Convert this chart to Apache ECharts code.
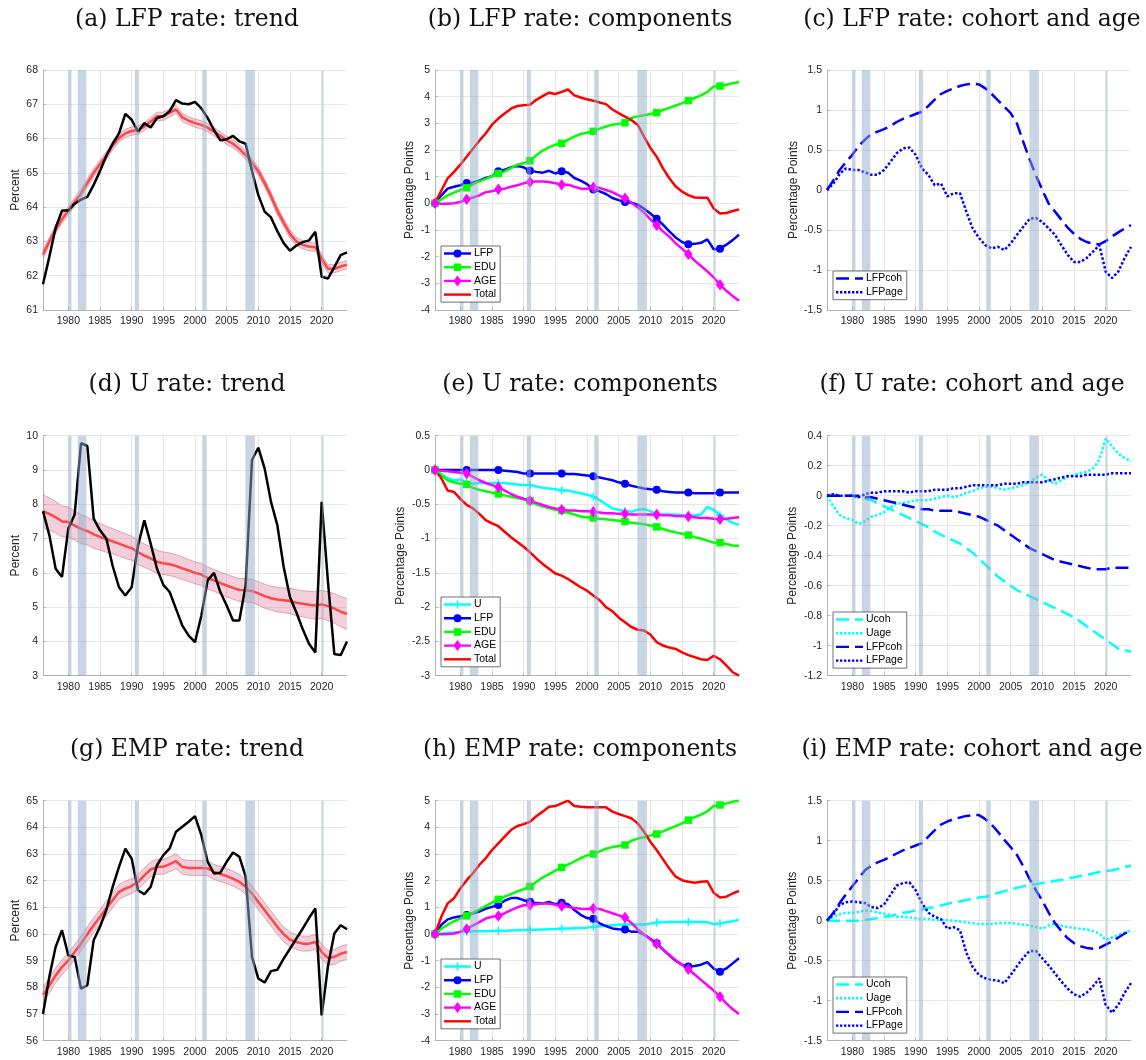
<!DOCTYPE html>
<html>
<head>
<meta charset="utf-8">
<title>LFP, U and EMP rates: trends, components, cohort and age</title>
<script src="https://cdn.jsdelivr.net/npm/echarts@6/dist/echarts.min.js"></script>
<style>
html, body { margin: 0; padding: 0; background: #ffffff; }
#chart { width: 1146px; height: 1060px; }
</style>
</head>
<body>
<div id="chart"></div>
<script>
// ---------- shared axis data ----------
const years = [
  1976, 1977, 1978, 1979, 1980, 1981, 1982, 1983, 1984, 1985,
  1986, 1987, 1988, 1989, 1990, 1991, 1992, 1993, 1994, 1995,
  1996, 1997, 1998, 1999, 2000, 2001, 2002, 2003, 2004, 2005,
  2006, 2007, 2008, 2009, 2010, 2011, 2012, 2013, 2014, 2015,
  2016, 2017, 2018, 2019, 2020, 2021, 2022, 2023, 2024
];
const yearTicks = [1980, 1985, 1990, 1995, 2000, 2005, 2010, 2015, 2020];
// NBER recession periods (start, end) in fractional years
const recessions = [
  [1980.0, 1980.5], [1981.5, 1982.85], [1990.5, 1991.15],
  [2001.15, 2001.85], [2007.95, 2009.45], [2020.05, 2020.3]
];

// ---------- (a) LFP rate: trend ----------
const lfpActual = [
  61.75, 62.55, 63.40, 63.90, 63.90, 64.10, 64.22, 64.30, 64.65, 65.05,
  65.50, 65.85, 66.15, 66.72, 66.55, 66.20, 66.45, 66.32, 66.60, 66.65,
  66.80, 67.12, 67.02, 67.00, 67.07, 66.88, 66.60, 66.25, 65.95, 65.98,
  66.08, 65.92, 65.85, 65.05, 64.35, 63.87, 63.70, 63.30, 62.95, 62.73,
  62.88, 62.98, 63.03, 63.28, 61.97, 61.92, 62.25, 62.60, 62.68
];
const lfpTrend = [
  62.62, 63.00, 63.35, 63.65, 63.90, 64.15, 64.40, 64.70, 65.00, 65.25,
  65.50, 65.80, 66.02, 66.15, 66.22, 66.25, 66.35, 66.50, 66.65, 66.65,
  66.75, 66.85, 66.62, 66.52, 66.45, 66.40, 66.32, 66.20, 66.08, 65.95,
  65.85, 65.70, 65.52, 65.30, 65.05, 64.70, 64.32, 63.90, 63.55, 63.22,
  63.00, 62.90, 62.85, 62.83, 62.50, 62.20, 62.20, 62.27, 62.32
];
const lfpBandHalf = 0.12;

// ---------- (b) LFP rate: components ----------
const lfpCompLFP = [
  0.00, 0.30, 0.55, 0.62, 0.68, 0.76, 0.78, 0.85, 0.95, 1.02,
  1.20, 1.26, 1.35, 1.40, 1.35, 1.22, 1.18, 1.15, 1.22, 1.12,
  1.20, 1.15, 0.95, 0.85, 0.72, 0.52, 0.45, 0.35, 0.20, 0.12,
  0.05, 0.02, -0.05, -0.20, -0.38, -0.58, -0.80, -1.05, -1.28, -1.45,
  -1.53, -1.52, -1.48, -1.35, -1.72, -1.70, -1.55, -1.38, -1.18
];
const lfpCompEDU = [
  0.00, 0.15, 0.30, 0.40, 0.50, 0.58, 0.72, 0.82, 0.92, 1.02,
  1.12, 1.20, 1.32, 1.45, 1.50, 1.60, 1.80, 1.98, 2.10, 2.20,
  2.25, 2.38, 2.50, 2.60, 2.65, 2.70, 2.80, 2.88, 2.95, 2.98,
  3.02, 3.20, 3.26, 3.30, 3.35, 3.40, 3.50, 3.58, 3.67, 3.75,
  3.85, 3.95, 4.05, 4.18, 4.38, 4.40, 4.45, 4.50, 4.55
];
const lfpCompAGE = [
  0.00, -0.02, -0.02, 0.00, 0.05, 0.15, 0.22, 0.30, 0.42, 0.45,
  0.53, 0.55, 0.62, 0.68, 0.75, 0.80, 0.82, 0.82, 0.80, 0.75,
  0.70, 0.70, 0.62, 0.55, 0.55, 0.60, 0.58, 0.50, 0.42, 0.30,
  0.19, 0.02, -0.15, -0.35, -0.60, -0.82, -1.05, -1.25, -1.50, -1.70,
  -1.91, -2.15, -2.35, -2.55, -2.78, -3.05, -3.28, -3.48, -3.65
];
const lfpCompTotal = [
  0.00, 0.48, 0.94, 1.18, 1.45, 1.75, 2.05, 2.35, 2.62, 2.95,
  3.18, 3.37, 3.55, 3.65, 3.68, 3.70, 3.88, 4.02, 4.15, 4.10,
  4.18, 4.27, 4.05, 3.97, 3.90, 3.85, 3.78, 3.72, 3.52, 3.38,
  3.25, 3.12, 2.95, 2.50, 2.08, 1.75, 1.31, 0.94, 0.63, 0.44,
  0.31, 0.22, 0.21, 0.21, -0.19, -0.38, -0.36, -0.29, -0.23
];

// ---------- (c) LFP rate: cohort and age ----------
const lfpCoh = [
  0.00, 0.12, 0.25, 0.35, 0.44, 0.55, 0.63, 0.70, 0.73, 0.76,
  0.80, 0.85, 0.89, 0.92, 0.95, 0.98, 1.05, 1.13, 1.20, 1.24,
  1.27, 1.30, 1.32, 1.33, 1.32, 1.27, 1.20, 1.12, 1.04, 0.96,
  0.83, 0.60, 0.38, 0.18, 0.00, -0.17, -0.27, -0.37, -0.47, -0.55,
  -0.61, -0.65, -0.67, -0.68, -0.64, -0.58, -0.53, -0.48, -0.44
];
const lfpAge = [
  0.00, 0.08, 0.20, 0.27, 0.25, 0.25, 0.22, 0.19, 0.19, 0.25,
  0.35, 0.46, 0.52, 0.53, 0.44, 0.27, 0.19, 0.06, 0.08, -0.08,
  -0.04, -0.04, -0.27, -0.48, -0.60, -0.69, -0.73, -0.71, -0.75, -0.67,
  -0.56, -0.46, -0.36, -0.35, -0.40, -0.48, -0.56, -0.69, -0.81, -0.90,
  -0.90, -0.85, -0.77, -0.69, -1.02, -1.10, -1.02, -0.85, -0.71
];

// ---------- (d) U rate: trend ----------
const uActual = [
  7.80, 7.10, 6.12, 5.88, 7.29, 7.70, 9.78, 9.70, 7.58, 7.24,
  7.00, 6.20, 5.58, 5.34, 5.58, 6.80, 7.53, 6.85, 6.12, 5.65,
  5.44, 4.95, 4.46, 4.17, 3.98, 4.75, 5.78, 6.00, 5.44, 5.05,
  4.61, 4.61, 5.63, 9.29, 9.65, 9.04, 8.07, 7.39, 6.17, 5.29,
  4.85, 4.36, 3.93, 3.68, 8.07, 5.73, 3.63, 3.60, 4.00
];
const uTrend = [
  7.80, 7.72, 7.62, 7.50, 7.48, 7.38, 7.28, 7.22, 7.12, 7.05,
  6.98, 6.92, 6.85, 6.78, 6.72, 6.60, 6.50, 6.42, 6.32, 6.28,
  6.25, 6.20, 6.13, 6.07, 6.00, 5.95, 5.85, 5.78, 5.70, 5.63,
  5.56, 5.50, 5.49, 5.47, 5.40, 5.32, 5.26, 5.22, 5.20, 5.18,
  5.13, 5.10, 5.07, 5.05, 5.08, 5.03, 4.96, 4.87, 4.80
];
const uBandHalf = [
  0.48, 0.47, 0.46, 0.45, 0.44, 0.43, 0.42, 0.41, 0.40, 0.39,
  0.38, 0.37, 0.36, 0.36, 0.35, 0.35, 0.34, 0.34, 0.34, 0.33,
  0.33, 0.33, 0.33, 0.32, 0.32, 0.32, 0.32, 0.32, 0.32, 0.33,
  0.33, 0.33, 0.34, 0.34, 0.34, 0.35, 0.35, 0.36, 0.36, 0.37,
  0.38, 0.38, 0.39, 0.40, 0.41, 0.42, 0.43, 0.44, 0.45
];

// ---------- (e) U rate: components ----------
const uCompU = [
  0.00, -0.06, -0.12, -0.15, -0.14, -0.18, -0.20, -0.19, -0.19, -0.19,
  -0.19, -0.19, -0.20, -0.21, -0.22, -0.22, -0.24, -0.26, -0.27, -0.28,
  -0.30, -0.30, -0.32, -0.34, -0.36, -0.39, -0.44, -0.50, -0.56, -0.58,
  -0.60, -0.61, -0.58, -0.57, -0.60, -0.64, -0.65, -0.65, -0.65, -0.66,
  -0.66, -0.66, -0.65, -0.54, -0.58, -0.66, -0.72, -0.77, -0.80
];
const uCompLFP = [
  0.00, 0.00, 0.00, 0.00, 0.00, 0.00, 0.00, 0.00, 0.00, 0.00,
  0.00, -0.01, -0.02, -0.03, -0.05, -0.05, -0.05, -0.05, -0.05, -0.05,
  -0.05, -0.06, -0.06, -0.07, -0.08, -0.09, -0.11, -0.13, -0.15, -0.18,
  -0.20, -0.23, -0.25, -0.27, -0.28, -0.29, -0.31, -0.32, -0.33, -0.33,
  -0.33, -0.34, -0.34, -0.34, -0.34, -0.33, -0.33, -0.33, -0.33
];
const uCompEDU = [
  0.00, -0.08, -0.15, -0.18, -0.20, -0.21, -0.26, -0.29, -0.31, -0.33,
  -0.35, -0.37, -0.39, -0.41, -0.43, -0.45, -0.50, -0.53, -0.56, -0.58,
  -0.59, -0.62, -0.65, -0.68, -0.69, -0.70, -0.71, -0.72, -0.73, -0.74,
  -0.75, -0.77, -0.78, -0.79, -0.81, -0.83, -0.86, -0.89, -0.91, -0.93,
  -0.95, -0.98, -1.00, -1.03, -1.06, -1.06, -1.08, -1.10, -1.11
];
const uCompAGE = [
  0.00, -0.01, -0.02, -0.03, -0.04, -0.05, -0.10, -0.15, -0.19, -0.22,
  -0.25, -0.30, -0.35, -0.39, -0.42, -0.45, -0.48, -0.51, -0.54, -0.56,
  -0.58, -0.59, -0.59, -0.60, -0.60, -0.61, -0.62, -0.63, -0.63, -0.64,
  -0.64, -0.65, -0.65, -0.65, -0.65, -0.65, -0.66, -0.66, -0.67, -0.67,
  -0.68, -0.69, -0.70, -0.70, -0.71, -0.72, -0.71, -0.70, -0.69
];
const uCompTotal = [
  0.00, -0.12, -0.30, -0.32, -0.42, -0.51, -0.56, -0.64, -0.73, -0.78,
  -0.82, -0.90, -0.98, -1.05, -1.12, -1.20, -1.29, -1.37, -1.44, -1.51,
  -1.54, -1.59, -1.65, -1.71, -1.76, -1.83, -1.90, -2.00, -2.06, -2.15,
  -2.22, -2.29, -2.33, -2.34, -2.40, -2.51, -2.56, -2.59, -2.61, -2.66,
  -2.70, -2.73, -2.76, -2.77, -2.71, -2.76, -2.85, -2.95, -3.00
];

// ---------- (f) U rate: cohort and age ----------
const uUcoh = [
  0.00, 0.00, 0.00, 0.00, 0.00, -0.01, -0.02, -0.03, -0.05, -0.07,
  -0.09, -0.11, -0.13, -0.15, -0.17, -0.19, -0.21, -0.24, -0.26, -0.28,
  -0.30, -0.32, -0.35, -0.38, -0.42, -0.46, -0.50, -0.54, -0.57, -0.60,
  -0.63, -0.65, -0.67, -0.69, -0.71, -0.73, -0.75, -0.77, -0.79, -0.81,
  -0.84, -0.87, -0.90, -0.93, -0.96, -0.99, -1.02, -1.03, -1.04
];
const uUage = [
  0.00, -0.07, -0.13, -0.15, -0.16, -0.19, -0.17, -0.14, -0.13, -0.11,
  -0.08, -0.05, -0.05, -0.04, -0.03, -0.03, -0.03, -0.02, -0.01, 0.00,
  -0.01, 0.00, 0.02, 0.03, 0.05, 0.06, 0.06, 0.05, 0.04, 0.05,
  0.06, 0.07, 0.09, 0.12, 0.14, 0.10, 0.08, 0.10, 0.13, 0.14,
  0.15, 0.16, 0.18, 0.24, 0.38, 0.33, 0.28, 0.25, 0.23
];
const uLFPcoh = [
  0.00, 0.00, 0.00, 0.00, 0.00, 0.00, -0.01, -0.01, -0.02, -0.03,
  -0.04, -0.05, -0.06, -0.07, -0.08, -0.09, -0.09, -0.10, -0.10, -0.10,
  -0.10, -0.11, -0.12, -0.13, -0.14, -0.16, -0.18, -0.20, -0.23, -0.26,
  -0.29, -0.32, -0.35, -0.37, -0.39, -0.41, -0.43, -0.44, -0.45, -0.46,
  -0.47, -0.48, -0.49, -0.49, -0.49, -0.48, -0.48, -0.48, -0.48
];
const uLFPage = [
  0.00, 0.01, 0.00, 0.00, 0.00, -0.01, 0.01, 0.02, 0.02, 0.03,
  0.03, 0.03, 0.03, 0.02, 0.03, 0.03, 0.03, 0.04, 0.04, 0.04,
  0.05, 0.05, 0.06, 0.07, 0.07, 0.07, 0.07, 0.07, 0.08, 0.08,
  0.08, 0.09, 0.09, 0.09, 0.09, 0.10, 0.11, 0.12, 0.13, 0.13,
  0.13, 0.14, 0.14, 0.14, 0.14, 0.15, 0.15, 0.15, 0.15
];

// ---------- (g) EMP rate: trend ----------
const empActual = [
  57.00, 58.40, 59.52, 60.14, 59.20, 59.14, 57.95, 58.08, 59.77, 60.27,
  60.90, 61.77, 62.52, 63.20, 62.83, 61.64, 61.49, 61.77, 62.58, 62.96,
  63.21, 63.84, 64.02, 64.21, 64.42, 63.71, 62.71, 62.27, 62.30, 62.71,
  63.06, 62.90, 62.15, 59.14, 58.33, 58.18, 58.61, 58.66, 59.08, 59.45,
  59.83, 60.20, 60.60, 60.96, 56.95, 58.80, 60.02, 60.33, 60.18
];
const empTrend = [
  57.72, 58.07, 58.45, 58.76, 59.01, 59.33, 59.64, 59.99, 60.33, 60.64,
  60.96, 61.27, 61.58, 61.70, 61.80, 61.95, 62.20, 62.42, 62.52, 62.52,
  62.62, 62.73, 62.52, 62.48, 62.48, 62.48, 62.46, 62.33, 62.25, 62.17,
  62.08, 61.96, 61.77, 61.52, 61.20, 60.89, 60.58, 60.27, 59.99, 59.79,
  59.70, 59.64, 59.64, 59.70, 59.33, 59.10, 59.14, 59.26, 59.33
];
const empBandHalf = 0.28;

// ---------- (h) EMP rate: components ----------
const empCompU = [
  0.00, 0.02, 0.05, 0.06, 0.08, 0.09, 0.10, 0.10, 0.10, 0.11,
  0.12, 0.12, 0.13, 0.14, 0.15, 0.16, 0.16, 0.17, 0.18, 0.19,
  0.21, 0.21, 0.22, 0.23, 0.24, 0.27, 0.29, 0.31, 0.33, 0.35,
  0.36, 0.37, 0.36, 0.36, 0.39, 0.43, 0.44, 0.45, 0.45, 0.45,
  0.45, 0.45, 0.45, 0.44, 0.37, 0.40, 0.44, 0.48, 0.53
];
const empCompLFP = [
  0.00, 0.35, 0.55, 0.62, 0.67, 0.71, 0.78, 0.84, 0.95, 1.02,
  1.09, 1.25, 1.35, 1.35, 1.27, 1.21, 1.16, 1.15, 1.20, 1.12,
  1.17, 1.12, 0.90, 0.72, 0.60, 0.57, 0.40, 0.30, 0.21, 0.18,
  0.17, 0.09, 0.09, -0.02, -0.18, -0.35, -0.58, -0.80, -1.00, -1.15,
  -1.22, -1.20, -1.15, -1.05, -1.30, -1.41, -1.29, -1.10, -0.91
];
const empCompEDU = [
  0.00, 0.20, 0.35, 0.48, 0.58, 0.68, 0.80, 0.92, 1.05, 1.18,
  1.30, 1.40, 1.50, 1.60, 1.68, 1.78, 1.95, 2.12, 2.25, 2.38,
  2.50, 2.60, 2.72, 2.85, 2.95, 3.00, 3.10, 3.20, 3.26, 3.30,
  3.34, 3.50, 3.58, 3.63, 3.70, 3.75, 3.85, 3.95, 4.05, 4.15,
  4.27, 4.38, 4.48, 4.60, 4.80, 4.84, 4.90, 4.96, 5.02
];
const empCompAGE = [
  0.00, -0.01, 0.00, 0.02, 0.08, 0.19, 0.32, 0.45, 0.58, 0.65,
  0.68, 0.78, 0.90, 1.00, 1.08, 1.09, 1.12, 1.15, 1.14, 1.10,
  1.05, 1.02, 0.98, 0.95, 0.94, 0.96, 0.94, 0.86, 0.78, 0.70,
  0.62, 0.42, 0.18, -0.02, -0.20, -0.36, -0.58, -0.78, -0.98, -1.15,
  -1.32, -1.52, -1.72, -1.92, -2.12, -2.35, -2.60, -2.82, -3.00
];
const empCompTotal = [
  0.00, 0.65, 1.15, 1.34, 1.71, 2.02, 2.28, 2.59, 2.84, 3.15,
  3.40, 3.65, 3.90, 4.05, 4.12, 4.21, 4.42, 4.59, 4.77, 4.80,
  4.90, 5.00, 4.80, 4.77, 4.75, 4.75, 4.75, 4.75, 4.59, 4.50,
  4.42, 4.34, 4.15, 3.84, 3.46, 3.15, 2.80, 2.46, 2.15, 2.02,
  1.96, 1.92, 1.96, 1.98, 1.55, 1.37, 1.40, 1.52, 1.62
];

// ---------- (i) EMP rate: cohort and age ----------
const empUcoh = [
  0.00, 0.00, 0.00, 0.00, 0.00, 0.00, 0.01, 0.02, 0.03, 0.05,
  0.06, 0.08, 0.10, 0.11, 0.13, 0.14, 0.16, 0.17, 0.19, 0.21,
  0.23, 0.24, 0.26, 0.27, 0.29, 0.30, 0.32, 0.35, 0.37, 0.39,
  0.41, 0.43, 0.45, 0.46, 0.47, 0.48, 0.50, 0.51, 0.53, 0.54,
  0.56, 0.57, 0.59, 0.61, 0.62, 0.63, 0.65, 0.67, 0.69
];
const empUage = [
  0.00, 0.05, 0.08, 0.10, 0.10, 0.11, 0.13, 0.12, 0.10, 0.09,
  0.07, 0.05, 0.05, 0.04, 0.03, 0.02, 0.02, 0.01, 0.01, 0.01,
  0.00, -0.01, -0.02, -0.03, -0.04, -0.04, -0.04, -0.03, -0.03, -0.03,
  -0.04, -0.05, -0.06, -0.08, -0.10, -0.06, -0.04, -0.06, -0.08, -0.09,
  -0.10, -0.11, -0.13, -0.16, -0.24, -0.21, -0.18, -0.15, -0.12
];
const empLFPcoh = [
  0.00, 0.10, 0.22, 0.33, 0.43, 0.53, 0.63, 0.69, 0.73, 0.76,
  0.80, 0.84, 0.88, 0.91, 0.94, 0.97, 1.05, 1.13, 1.20, 1.24,
  1.27, 1.29, 1.31, 1.32, 1.32, 1.27, 1.20, 1.11, 1.01, 0.92,
  0.82, 0.68, 0.52, 0.38, 0.25, 0.10, -0.03, -0.13, -0.22, -0.28,
  -0.32, -0.34, -0.35, -0.34, -0.30, -0.26, -0.21, -0.16, -0.12
];
const empLFPage = [
  0.00, 0.08, 0.20, 0.23, 0.24, 0.23, 0.22, 0.17, 0.16, 0.20,
  0.32, 0.44, 0.47, 0.48, 0.38, 0.22, 0.10, 0.05, 0.02, -0.10,
  -0.08, -0.12, -0.40, -0.58, -0.68, -0.72, -0.74, -0.75, -0.78, -0.68,
  -0.57, -0.46, -0.38, -0.38, -0.47, -0.56, -0.66, -0.76, -0.85, -0.92,
  -0.95, -0.90, -0.82, -0.72, -1.05, -1.15, -1.05, -0.90, -0.78
];

// ---------- styling ----------
const BLUE = '#0000ff', GREEN = '#00ff00', MAGENTA = '#ff00ff', RED = '#ff0000', CYAN = '#00ffff';
const TREND_RED = '#ff4747';
const BAND_FILL = 'rgba(215,110,145,0.33)';
const BAND_EDGE = 'rgba(205,105,140,0.55)';
const RECESSION_FILL = 'rgba(145,171,197,0.5)';
const AXIS_C = '#b4b4b4', GRID_C = '#e6e6e6', LABEL_C = '#262626';
const SANS = 'Liberation Sans, Arial, Helvetica, sans-serif';
const SERIF = 'DejaVu Serif, serif';
const LINE_W = 2.5;
const DASH = [13, 6];
const DOT = [2.5, 2];

const GRID_LEFT = [43, 435, 827];
const GRID_TOP = [70, 435.7, 800.7];
const GRID_W = 304, GRID_H = 240;
const TITLE_X = [187, 580, 972];
const TITLE_TOP = [8, 373, 738];

// marker shapes shown every fifth year
const SYM = {
  circle: { symbol: 'circle', size: 8 },
  square: { symbol: 'rect', size: 7.5 },
  diamond: { symbol: 'diamond', size: [8.5, 11.5] },
  plus: { symbol: 'path://M4,0L6,0L6,10L4,10ZM0,4L10,4L10,6L0,6Z', size: 8 }
};

// legend icons: a 27x11 sample of the line, with its marker where it has one
const ICON_FRAME = 'M0,0M27,11';
const ICON_SOLID = 'M0,4.3L27,4.3L27,6.7L0,6.7Z';
const ICON_DASH = 'M0,4.3L13,4.3L13,6.7L0,6.7ZM19,4.3L27,4.3L27,6.7L19,6.7Z';
let ICON_DOT = '';
for (let x = 0; x < 26; x += 4) ICON_DOT += 'M' + x + ',4.3L' + (x + 2.4) + ',4.3L' + (x + 2.4) + ',6.7L' + x + ',6.7Z';
const ICON_MARK = {
  circle: 'M17.5,5.5A4,4 0 1 1 9.5,5.5A4,4 0 1 1 17.5,5.5Z',
  square: 'M9.75,1.75L17.25,1.75L17.25,9.25L9.75,9.25Z',
  diamond: 'M13.5,0L17.5,5.5L13.5,11L9.5,5.5Z',
  plus: 'M12.7,1.5L14.3,1.5L14.3,9.5L12.7,9.5ZM9.5,4.7L17.5,4.7L17.5,6.3L9.5,6.3Z'
};
function legendIcon(s) {
  let body = s.dash === 'dash' ? ICON_DASH : s.dash === 'dot' ? ICON_DOT : ICON_SOLID;
  if (s.marker) body += ICON_MARK[s.marker];
  return 'path://' + ICON_FRAME + body;
}

// ---------- panels ----------
const panels = [
  { title: '(a) LFP rate: trend', kind: 'trend', y: [61, 68, 1], yName: 'Percent', nameGap: 21,
    actual: lfpActual, trend: lfpTrend, half: lfpBandHalf },
  { title: '(b) LFP rate: components', kind: 'lines', y: [-4, 5, 1], yName: 'Percentage Points', nameGap: 19,
    legendTop: 246, lines: [
      { name: 'LFP', data: lfpCompLFP, color: BLUE, marker: 'circle' },
      { name: 'EDU', data: lfpCompEDU, color: GREEN, marker: 'square' },
      { name: 'AGE', data: lfpCompAGE, color: MAGENTA, marker: 'diamond' },
      { name: 'Total', data: lfpCompTotal, color: RED }
    ] },
  { title: '(c) LFP rate: cohort and age', kind: 'lines', y: [-1.5, 1.5, 0.5], yName: 'Percentage Points', nameGap: 24,
    legendTop: 271, lines: [
      { name: 'LFPcoh', data: lfpCoh, color: BLUE, dash: 'dash' },
      { name: 'LFPage', data: lfpAge, color: BLUE, dash: 'dot' }
    ] },
  { title: '(d) U rate: trend', kind: 'trend', y: [3, 10, 1], yName: 'Percent', nameGap: 21,
    actual: uActual, trend: uTrend, half: uBandHalf },
  { title: '(e) U rate: components', kind: 'lines', y: [-3, 0.5, 0.5], yName: 'Percentage Points', nameGap: 28,
    legendTop: 597, lines: [
      { name: 'U', data: uCompU, color: CYAN, marker: 'plus' },
      { name: 'LFP', data: uCompLFP, color: BLUE, marker: 'circle' },
      { name: 'EDU', data: uCompEDU, color: GREEN, marker: 'square' },
      { name: 'AGE', data: uCompAGE, color: MAGENTA, marker: 'diamond' },
      { name: 'Total', data: uCompTotal, color: RED }
    ] },
  { title: '(f) U rate: cohort and age', kind: 'lines', y: [-1.2, 0.4, 0.2], yName: 'Percentage Points', nameGap: 28,
    legendTop: 612, lines: [
      { name: 'Ucoh', data: uUcoh, color: CYAN, dash: 'dash' },
      { name: 'Uage', data: uUage, color: CYAN, dash: 'dot' },
      { name: 'LFPcoh', data: uLFPcoh, color: BLUE, dash: 'dash' },
      { name: 'LFPage', data: uLFPage, color: BLUE, dash: 'dot' }
    ] },
  { title: '(g) EMP rate: trend', kind: 'trend', y: [56, 65, 1], yName: 'Percent', nameGap: 21,
    actual: empActual, trend: empTrend, half: empBandHalf },
  { title: '(h) EMP rate: components', kind: 'lines', y: [-4, 5, 1], yName: 'Percentage Points', nameGap: 19,
    legendTop: 959, lines: [
      { name: 'U', data: empCompU, color: CYAN, marker: 'plus' },
      { name: 'LFP', data: empCompLFP, color: BLUE, marker: 'circle' },
      { name: 'EDU', data: empCompEDU, color: GREEN, marker: 'square' },
      { name: 'AGE', data: empCompAGE, color: MAGENTA, marker: 'diamond' },
      { name: 'Total', data: empCompTotal, color: RED }
    ] },
  { title: '(i) EMP rate: cohort and age', kind: 'lines', y: [-1.5, 1.5, 0.5], yName: 'Percentage Points', nameGap: 28,
    legendTop: 977, lines: [
      { name: 'Ucoh', data: empUcoh, color: CYAN, dash: 'dash' },
      { name: 'Uage', data: empUage, color: CYAN, dash: 'dot' },
      { name: 'LFPcoh', data: empLFPcoh, color: BLUE, dash: 'dash' },
      { name: 'LFPage', data: empLFPage, color: BLUE, dash: 'dot' }
    ] }
];

function pairs(vals) { return years.map((y, i) => [y, vals[i]]); }

// confidence band: one polygon between the lower and upper bounds plus its two edges
function renderBand(params, api) {
  if (params.dataIndexInside !== 0) return null;
  const n = params.dataInsideLength || years.length;
  const lo = [], hi = [];
  for (let k = 0; k < n; k++) {
    const x = api.value(0, k);
    lo.push(api.coord([x, api.value(1, k)]));
    hi.push(api.coord([x, api.value(2, k)]));
  }
  return {
    type: 'group',
    children: [
      { type: 'polygon', shape: { points: lo.concat(hi.slice().reverse()) }, style: { fill: BAND_FILL } },
      { type: 'polyline', shape: { points: lo }, style: { stroke: BAND_EDGE, lineWidth: 1, fill: null } },
      { type: 'polyline', shape: { points: hi }, style: { stroke: BAND_EDGE, lineWidth: 1, fill: null } }
    ]
  };
}

const grids = [], xAxes = [], yAxes = [], titles = [], legends = [], series = [];

panels.forEach((p, g) => {
  const col = g % 3, row = Math.floor(g / 3);
  grids.push({ left: GRID_LEFT[col], top: GRID_TOP[row], width: GRID_W, height: GRID_H,
    containLabel: false, outerBoundsMode: 'none' });

  xAxes.push({
    type: 'value', gridIndex: g, min: 1976, max: 2024,
    axisLine: { show: true, onZero: false, lineStyle: { color: AXIS_C, width: 1 } },
    axisTick: { show: true, inside: true, length: 3, customValues: yearTicks, lineStyle: { color: AXIS_C } },
    axisLabel: { show: true, customValues: yearTicks, formatter: v => String(v),
      color: LABEL_C, fontSize: 10.5, fontFamily: SANS, margin: 6 },
    splitLine: { show: true, lineStyle: { color: GRID_C, width: 1 } }
  });

  yAxes.push({
    type: 'value', gridIndex: g, min: p.y[0], max: p.y[1], interval: p.y[2],
    name: p.yName, nameLocation: 'middle', nameGap: p.nameGap,
    nameTextStyle: { fontSize: 12, color: LABEL_C, fontFamily: SANS },
    axisLine: { show: true, onZero: false, lineStyle: { color: AXIS_C, width: 1 } },
    axisTick: { show: true, inside: true, length: 3, lineStyle: { color: AXIS_C } },
    axisLabel: { color: LABEL_C, fontSize: 10.5, fontFamily: SANS, margin: 5 },
    splitLine: { show: true, lineStyle: { color: GRID_C, width: 1 } }
  });

  titles.push({
    text: p.title, left: TITLE_X[col], top: TITLE_TOP[row], textAlign: 'center', textVerticalAlign: 'top',
    padding: 0, textStyle: { fontFamily: SERIF, fontSize: 23.5, fontWeight: 'normal', color: '#111111' }
  });

  const base = { xAxisIndex: g, yAxisIndex: g, silent: true, animation: false, emphasis: { disabled: true } };

  if (p.kind === 'trend') {
    const half = i => (Array.isArray(p.half) ? p.half[i] : p.half);
    series.push(Object.assign({}, base, {
      type: 'custom', renderItem: renderBand,
      data: years.map((y, i) => [y, p.trend[i] - half(i), p.trend[i] + half(i)]),
      encode: { x: 0, y: [1, 2] }
    }));
    series.push(Object.assign({}, base, {
      type: 'line', symbol: 'none', data: pairs(p.trend),
      lineStyle: { width: 2.5, color: TREND_RED }
    }));
    series.push(Object.assign({}, base, {
      type: 'line', symbol: 'none', data: pairs(p.actual),
      lineStyle: { width: 2.5, color: '#000000' }
    }));
  } else {
    p.lines.forEach(s => {
      const o = Object.assign({}, base, {
        type: 'line', name: s.name, data: pairs(s.data), color: s.color,
        lineStyle: { width: LINE_W, color: s.color, cap: 'butt',
          type: s.dash === 'dash' ? DASH : s.dash === 'dot' ? DOT : 'solid' }
      });
      if (s.marker) {
        const m = SYM[s.marker];
        o.symbol = (v, params) => (params.dataIndex % 5 === 0 ? m.symbol : 'none');
        o.symbolSize = m.size;
        o.showSymbol = true;
        o.showAllSymbol = true;
        o.itemStyle = { color: s.color, borderWidth: 0 };
      } else {
        o.symbol = 'none';
        o.showSymbol = false;
      }
      series.push(o);
    });
    legends.push({
      show: true, orient: 'vertical', left: GRID_LEFT[col] + 6, top: p.legendTop,
      data: p.lines.map(s => ({ name: s.name, icon: legendIcon(s) })),
      itemWidth: 27, itemHeight: 11, itemGap: 2.7, padding: [2, 4, 2, 3],
      backgroundColor: '#ffffff', borderColor: '#4d4d4d', borderWidth: 0.8, borderRadius: 0,
      itemStyle: { borderWidth: 0 },
      textStyle: { fontSize: 10.5, color: '#000000', fontFamily: SANS, padding: [0, 0, 0, -2] },
      selectedMode: false, z: 20
    });
  }

  // recession shading, drawn over the lines
  series.push(Object.assign({}, base, {
    type: 'line', data: [], symbol: 'none',
    markArea: {
      silent: true, z: 10, label: { show: false },
      itemStyle: { color: RECESSION_FILL, borderWidth: 0 },
      data: recessions.map(r => [{ xAxis: r[0] }, { xAxis: r[1] }])
    }
  }));
});

const chart = echarts.init(document.getElementById('chart'), null, { renderer: 'canvas' });
chart.setOption({
  animation: false,
  backgroundColor: '#ffffff',
  textStyle: { fontFamily: SANS },
  title: titles,
  legend: legends,
  grid: grids,
  xAxis: xAxes,
  yAxis: yAxes,
  series: series
});
</script>
</body>
</html>
